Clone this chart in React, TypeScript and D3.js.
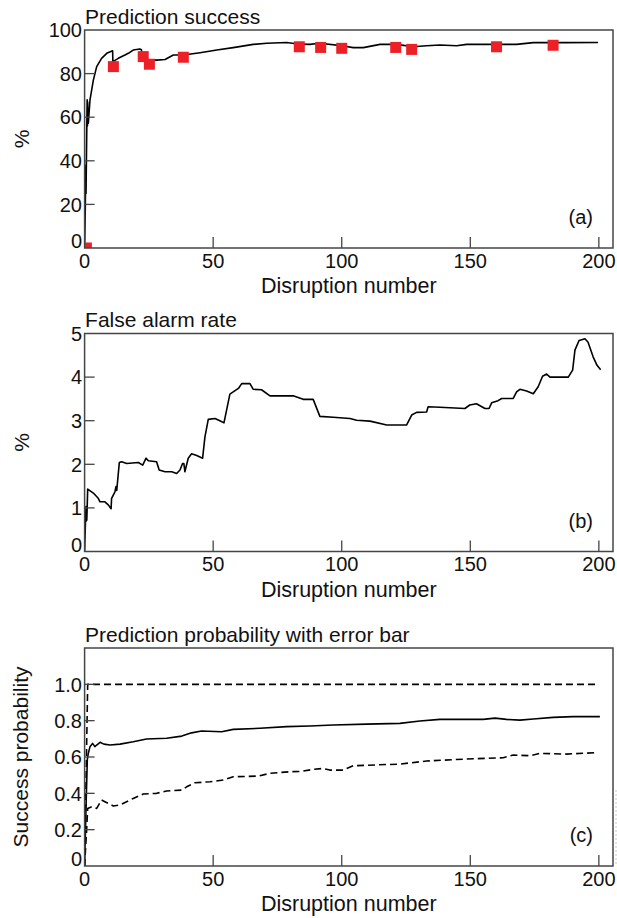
import React from "react";
import * as d3 from "d3";

const W = 617;
const H = 918;
const left = 84.6;
const right = 613;
const font = "'Liberation Sans', Arial, Helvetica, sans-serif";

// panel (a): prediction success, %
const successLine: [number, number][] = [
  [0, 0], [0.3, 20], [0.4, 37], [0.45, 26], [0.5, 38], [0.55, 25], [0.8, 50],
  [1.0, 68], [1.1, 56], [1.2, 67], [1.3, 58], [1.45, 57.2], [2.1, 67.9],
  [3.4, 77], [4.7, 83.2], [6.6, 87], [8.6, 89.3], [10.9, 90.5], [11.0, 85.5],
  [13.1, 87], [15.7, 88.5], [17, 89.3], [18.9, 90.8], [21.5, 91.3], [22.1, 91],
  [22.3, 87], [24.1, 86.5], [28, 86.2], [31.3, 86.5], [34.5, 88.5], [38.4, 88.5],
  [44.9, 89.6], [51.4, 90.8], [57.8, 91.9], [65.6, 93.4], [70.8, 93.9],
  [78.6, 94.3], [83.7, 93.5], [87.6, 93.4], [91.5, 93.9], [100.6, 92.7],
  [104.5, 91.9], [108.4, 91.9], [114.9, 93.4], [121.3, 93.4], [127.8, 92.3],
  [133, 92.8], [138.2, 93.1], [144.7, 92.8], [148.6, 93.4], [168, 93.4],
  [174.5, 94.2], [187.4, 94.2], [199.7, 94.3],
];
const successMarks: [number, number][] = [
  [0.7, 0], [11.2, 83.2], [22.8, 87.8], [25.2, 84.3], [38.4, 87.5],
  [83.5, 92.3], [91.8, 92], [100, 91.6], [121, 92], [127.2, 91.1],
  [160.2, 92.3], [182.2, 93],
];

// panel (b): false alarm rate, %
const falseAlarm: [number, number][] = [
  [0, 0], [0.3, 0.6], [0.55, 1.03], [0.65, 0.7], [0.75, 1.0], [0.85, 0.72],
  [1.0, 1.0], [1.2, 1.43], [3.4, 1.34], [5.3, 1.22], [6, 1.14], [7.9, 1.14],
  [9.2, 1.07], [10.3, 0.98], [10.5, 1.22], [11.8, 1.37], [12.2, 1.49],
  [12.5, 1.4], [13.5, 2.04], [14.4, 2.06], [16.4, 2.02], [20.9, 2.04],
  [22.6, 1.98], [23.9, 2.14], [24.8, 2.08], [28, 2.06], [29, 1.87],
  [31.3, 1.83], [33.9, 1.83], [35.8, 1.79], [37.1, 1.87], [38.1, 2.02],
  [38.6, 2.02], [39, 1.83], [40.3, 2.14], [41.6, 2.24], [43.6, 2.2],
  [45.9, 2.14], [46.8, 2.63], [48.1, 3.03], [50.7, 3.05], [52.6, 3.0],
  [54.2, 2.95], [56.5, 3.61], [57.8, 3.66], [59.8, 3.74], [61.1, 3.85],
  [64.3, 3.85], [65.6, 3.72], [68.8, 3.71], [72.1, 3.57], [77.3, 3.57],
  [81.1, 3.57], [85, 3.49], [88.9, 3.49], [91.5, 3.1], [96.7, 3.08],
  [103.2, 3.05], [105.8, 3.01], [111, 2.99], [117.5, 2.9], [125.2, 2.9],
  [127.2, 3.13], [129.1, 3.19], [133, 3.2], [133.6, 3.32], [138.2, 3.31],
  [147.9, 3.28], [149.8, 3.36], [152.4, 3.39], [155.7, 3.28], [157.3, 3.28],
  [158.3, 3.41], [160.8, 3.46], [162.2, 3.51], [166.7, 3.51], [168, 3.66],
  [169.3, 3.72], [171.9, 3.68], [174.5, 3.62], [176.4, 3.78], [178.1, 4.02],
  [179.7, 4.07], [181, 4.0], [188.1, 4.0], [189.8, 4.16], [190.7, 4.62],
  [192.3, 4.84], [194.6, 4.88], [195.8, 4.8], [197.8, 4.46], [199.3, 4.27],
  [200.7, 4.17],
];

// panel (c): success probability with error bar
const probMean: [number, number][] = [
  [0, 0], [0.6, 0.35], [1.06, 0.587], [1.45, 0.62], [2.1, 0.657], [3.1, 0.675],
  [4, 0.657], [4.7, 0.666], [6, 0.681], [7.5, 0.671], [9.9, 0.666],
  [13.8, 0.671], [18.9, 0.684], [24.1, 0.699], [31.9, 0.703], [37.8, 0.715],
  [41.6, 0.733], [45.5, 0.743], [53.3, 0.739], [57.8, 0.752], [68.2, 0.758],
  [78.6, 0.767], [87.6, 0.771], [96.7, 0.776], [109.7, 0.781], [122.6, 0.785],
  [130.4, 0.798], [138.2, 0.807], [155, 0.807], [159.6, 0.814], [164.1, 0.807],
  [169.3, 0.803], [174.5, 0.809], [182.2, 0.818], [190, 0.822], [200.4, 0.822],
];
const probLow: [number, number][] = [
  [0, 0], [0.8, 0.2], [1.2, 0.317], [2.8, 0.326], [4.7, 0.317], [6.6, 0.363],
  [7.9, 0.354], [9.2, 0.345], [11.2, 0.33], [13.8, 0.336], [18.9, 0.372],
  [22.8, 0.396], [28, 0.4], [31.9, 0.413], [37.8, 0.418], [39.7, 0.436],
  [42.9, 0.458], [48.8, 0.464], [53.9, 0.473], [57.8, 0.491], [67.5, 0.495],
  [72.1, 0.51], [79.9, 0.519], [84, 0.52], [88.9, 0.532], [92.8, 0.537],
  [95.4, 0.528], [100.6, 0.528], [104.5, 0.552], [122.6, 0.561], [133, 0.578],
  [148.6, 0.589], [162.8, 0.596], [166.7, 0.611], [173.2, 0.607],
  [177.1, 0.62], [187.4, 0.616], [199.1, 0.624],
];
const probHigh: [number, number][] = [[0, 0], [1.2, 1.0], [200, 1.0]];

const xTicks = [0, 50, 100, 150, 200];

type Series = { pts: [number, number][]; dash?: string };

type PanelProps = {
  id: string;
  top: number;
  title: string;
  yLabel: string;
  yLabelX: number;
  yMax: number;
  yTicks: number[];
  yFmt: (v: number) => string;
  letter: string;
  series: Series[];
  marks?: [number, number][];
};

function Panel(p: PanelProps) {
  const bottom = p.top + 218;
  const x = d3.scaleLinear().domain([0, 205.5]).range([left, right]);
  const y = d3.scaleLinear().domain([0, p.yMax]).range([bottom, p.top]);
  const line = d3
    .line<[number, number]>()
    .x((d) => x(d[0]))
    .y((d) => y(d[1]));
  const axisCol = "#454545";
  const tl = 10;
  return (
    <g fontFamily={font} fill="#111">
      <defs>
        <clipPath id={"clip-" + p.id}>
          <rect x={left} y={p.top} width={right - left} height={bottom - p.top} />
        </clipPath>
      </defs>
      <text x={left + 0.5} y={p.top - 6.5} fontSize={21}>
        {p.title}
      </text>
      <g clipPath={`url(#clip-${p.id})`}>
        {p.series.map((s, i) => (
          <path
            key={i}
            d={line(s.pts) || ""}
            fill="none"
            stroke="#000"
            strokeWidth={1.6}
            strokeDasharray={s.dash}
            strokeLinejoin="round"
          />
        ))}
        {(p.marks || []).map((m, i) => (
          <rect
            key={i}
            x={x(m[0]) - 5.5}
            y={y(m[1]) - 5.5}
            width={11}
            height={11}
            fill="#ec2128"
          />
        ))}
      </g>
      <rect
        x={left}
        y={p.top}
        width={right - left}
        height={bottom - p.top}
        fill="none"
        stroke={axisCol}
        strokeWidth={1.5}
      />
      {p.yTicks.map((t) => (
        <g key={"y" + t}>
          {t > 0 && y(t) > p.top + 1 && (
            <line x1={left} x2={left + tl} y1={y(t)} y2={y(t)} stroke={axisCol} strokeWidth={1.3} />
          )}
          <text
            x={82}
            y={t === 0 ? bottom : y(t)}
            dy={t === 0 ? "0" : "0.36em"}
            textAnchor="end"
            fontSize={20}
          >
            {p.yFmt(t)}
          </text>
        </g>
      ))}
      {xTicks.map((t) => (
        <g key={"x" + t}>
          {t > 0 && (
            <line x1={x(t)} x2={x(t)} y1={bottom} y2={bottom - 11} stroke={axisCol} strokeWidth={1.3} />
          )}
          <text x={x(t)} y={bottom + 19.5} textAnchor="middle" fontSize={20}>
            {t}
          </text>
        </g>
      ))}
      <text x={593} y={bottom - 24} textAnchor="end" fontSize={20}>
        {p.letter}
      </text>
      <text
        x={(left + right) / 2}
        y={bottom + 45}
        textAnchor="middle"
        fontSize={21.5}
      >
        Disruption number
      </text>
      <text
        transform={`translate(${p.yLabelX},${(p.top + bottom) / 2}) rotate(-90)`}
        textAnchor="middle"
        fontSize={21}
      >
        {p.yLabel}
      </text>
    </g>
  );
}

export default function App() {
  return (
    <svg
      width={W}
      height={H}
      style={{ position: "absolute", left: 0, top: 0, background: "#fff" }}
    >
      <rect width={W} height={H} fill="#fff" />
      <Panel
        id="a"
        top={30}
        title="Prediction success"
        yLabel="%"
        yLabelX={29}
        yMax={100}
        yTicks={[0, 20, 40, 60, 80, 100]}
        yFmt={(v) => String(v)}
        letter="(a)"
        series={[{ pts: successLine }]}
        marks={successMarks}
      />
      <Panel
        id="b"
        top={333.5}
        title="False alarm rate"
        yLabel="%"
        yLabelX={29}
        yMax={5}
        yTicks={[0, 1, 2, 3, 4, 5]}
        yFmt={(v) => String(v)}
        letter="(b)"
        series={[{ pts: falseAlarm }]}
      />
      <Panel
        id="c"
        top={648}
        title="Prediction probability with error bar"
        yLabel="Success probability"
        yLabelX={28}
        yMax={1.2}
        yTicks={[0, 0.2, 0.4, 0.6, 0.8, 1.0]}
        yFmt={(v) => (v === 0 ? "0" : d3.format(".1f")(v))}
        letter="(c)"
        series={[
          { pts: probHigh, dash: "7,4" },
          { pts: probMean },
          { pts: probLow, dash: "7,4" },
        ]}
      />
      <line
        x1={616}
        x2={616}
        y1={790}
        y2={866}
        stroke="#c8c8c8"
        strokeWidth={1}
        strokeDasharray="2,2"
      />
    </svg>
  );
}
